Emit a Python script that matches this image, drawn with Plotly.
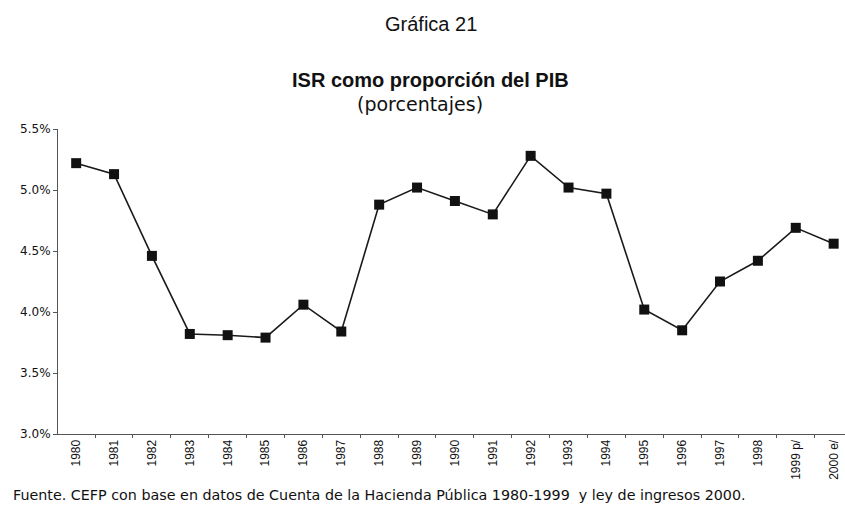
import plotly.graph_objects as go

years = ["1980", "1981", "1982", "1983", "1984", "1985", "1986", "1987", "1988", "1989",
         "1990", "1991", "1992", "1993", "1994", "1995", "1996", "1997", "1998", "1999 p/", "2000 e/"]
isr_pib = [5.22, 5.13, 4.46, 3.82, 3.81, 3.79, 4.06, 3.84, 4.88, 5.02,
           4.91, 4.80, 5.28, 5.02, 4.97, 4.02, 3.85, 4.25, 4.42, 4.69, 4.56]
y_ticks = [3.0, 3.5, 4.0, 4.5, 5.0, 5.5]
y_tick_labels = ["3.0%", "3.5%", "4.0%", "4.5%", "5.0%", "5.5%"]

W, H = 845, 509
L, R, T, B = 58, 0, 129, 75
pw, ph = W - L - R, H - T - B

def px(x):
    return (x - L) / pw

def py(y):
    return (H - B - y) / ph

fig = go.Figure()
fig.add_trace(go.Scatter(
    x=years, y=isr_pib, mode="lines+markers",
    line=dict(color="#1a1a1a", width=1.6),
    marker=dict(symbol="square", size=10, color="#111111"),
    showlegend=False, hoverinfo="x+y",
))

lib = "Liberation Sans, Arial, sans-serif"
dv = "DejaVu Sans, sans-serif"
fig.update_layout(
    width=W, height=H,
    margin=dict(l=L, r=R, t=T, b=B, autoexpand=False),
    paper_bgcolor="white", plot_bgcolor="white",
    font=dict(family=lib, color="#111111"),
    xaxis=dict(
        type="category",
        range=[-0.48, 20.3],
        tickangle=-90, tickfont=dict(size=12, family=lib),
        showline=True, linecolor="#555555", linewidth=1,
        ticks="outside", ticklen=3, tickcolor="#555555", tickson="boundaries",
        showgrid=False, zeroline=False,
    ),
    yaxis=dict(
        range=[3.0, 5.5], tickmode="array", tickvals=y_ticks, ticktext=y_tick_labels,
        tickfont=dict(size=12, family=dv),
        showline=True, linecolor="#555555", linewidth=1,
        ticks="outside", ticklen=4, tickcolor="#555555",
        showgrid=False, zeroline=False,
    ),
    annotations=[
        dict(text="Gráfica 21", x=px(431), y=py(24), xref="paper", yref="paper",
             xanchor="center", yanchor="middle",
             showarrow=False, font=dict(size=20, family=lib)),
        dict(text="<b>ISR como proporción del PIB</b>", x=px(430), y=py(80), xref="paper", yref="paper",
             xanchor="center", yanchor="middle",
             showarrow=False, font=dict(size=20, family=lib)),
        dict(text="(porcentajes)", x=px(420), y=py(104), xref="paper", yref="paper",
             xanchor="center", yanchor="middle",
             showarrow=False, font=dict(size=19, family=dv)),
        dict(text="Fuente. CEFP con base en datos de Cuenta de la Hacienda Pública 1980-1999  y ley de ingresos 2000.",
             x=px(11), y=py(495), xref="paper", yref="paper", xanchor="left", yanchor="middle",
             showarrow=False, font=dict(size=14.3, family=dv)),
    ],
)

fig.write_html("out.html", config={"displayModeBar": False},
               post_script="document.body.style.margin='0';document.body.style.overflow='hidden';")
